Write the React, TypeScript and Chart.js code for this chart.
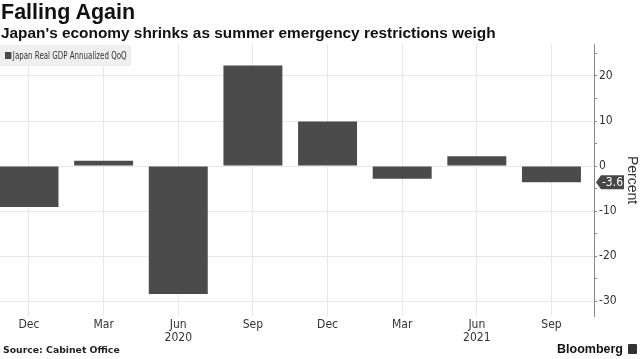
import React, { useEffect, useRef } from "react";
import { Chart, registerables } from "chart.js";

Chart.register(...registerables);

const categories = ["Dec", "Mar", "Jun", "Sep", "Dec", "Mar", "Jun", "Sep"];
const yearLabels = ["", "", "2020", "", "", "", "2021", ""];
const gdpValues = [-9.1, 1.2, -28.4, 22.3, 9.9, -2.8, 2.2, -3.6];
const yTickValues = [-30, -25, -20, -15, -10, -5, 0, 5, 10, 15, 20, 25];
const seriesName = "Japan Real GDP Annualized QoQ";

const BAR = "#4b4b4b";
const AXIS_FONT = "'Liberation Sans Narrow', 'DejaVu Sans Condensed', sans-serif";

const lastValueTag = {
  id: "lastValueTag",
  afterDraw(chart: any) {
    const { ctx, chartArea, scales } = chart;
    const v = gdpValues[gdpValues.length - 1];
    const y = scales.y.getPixelForValue(v);
    const x0 = chartArea.right + 2;
    const h = 7;
    ctx.save();
    ctx.fillStyle = "#474747";
    ctx.beginPath();
    ctx.moveTo(x0, y);
    ctx.lineTo(x0 + 5, y - h);
    ctx.lineTo(x0 + 28, y - h);
    ctx.lineTo(x0 + 28, y + h);
    ctx.lineTo(x0 + 5, y + h);
    ctx.closePath();
    ctx.fill();
    ctx.fillStyle = "#ffffff";
    ctx.font = "12px " + AXIS_FONT;
    ctx.textAlign = "center";
    ctx.textBaseline = "middle";
    ctx.fillText(String(v), x0 + 16.5, y + 0.5);
    ctx.restore();
  },
};

export default function App() {
  const ref = useRef<HTMLCanvasElement>(null);

  useEffect(() => {
    if (!ref.current) return;
    const chart = new Chart(ref.current, {
      type: "bar",
      data: {
        datasets: [
          {
            label: seriesName,
            data: gdpValues.map((v, i) => ({ x: i, y: v })),
            backgroundColor: BAR,
            borderWidth: 0,
            barPercentage: 0.79,
            categoryPercentage: 1,
          },
        ],
      },
      options: {
        responsive: false,
        animation: false,
        layout: { padding: { top: 44, left: 0, right: 0, bottom: 0 } },
        plugins: {
          legend: { display: false },
          tooltip: { enabled: false },
        },
        scales: {
          x: {
            type: "linear",
            offset: false,
            min: -0.3885,
            max: 7.57,
            afterBuildTicks: (s: any) => {
              s.ticks = categories.map((_, i) => ({ value: i }));
            },
            afterFit: (s: any) => {
              s.height = 43;
            },
            grid: { color: "#e8e8e8", drawTicks: false, lineWidth: 1, offset: false },
            border: { display: false },
            ticks: {
              autoSkip: false,
              maxRotation: 0,
              padding: 2,
              color: "#333333",
              font: { family: AXIS_FONT, size: 12, lineHeight: 1.1 },
              callback: (value: any) => {
                const i = Math.round(Number(value));
                return yearLabels[i] ? [categories[i], yearLabels[i]] : categories[i];
              },
            },
          },
          y: {
            position: "right",
            min: -33.3,
            max: 27.1,
            afterBuildTicks: (s: any) => {
              s.ticks = yTickValues.map((v) => ({ value: v }));
            },
            afterFit: (s: any) => {
              s.width = 46;
            },
            grid: {
              color: (c: any) => (c.tick && c.tick.value % 10 === 0 ? "#e8e8e8" : "rgba(0,0,0,0)"),
              tickColor: "#8a8a8a",
              tickLength: 3,
            },
            border: { display: true, color: "#8a8a8a" },
            ticks: {
              padding: 2,
              color: "#333333",
              font: { family: AXIS_FONT, size: 12 },
              callback: (value: any) => (Number(value) % 10 === 0 ? String(value) : ""),
            },
            title: {
              display: true,
              text: "Percent",
              color: "#333333",
              padding: 0,
              font: { family: "'Liberation Sans', 'DejaVu Sans', sans-serif", size: 14 },
            },
          },
        },
      },
      plugins: [lastValueTag],
    } as any);
    return () => chart.destroy();
  }, []);

  return (
    <div style={{ position: "relative", width: 640, height: 359, background: "#fff", overflow: "hidden" }}>
      <style>{`body{margin:0}`}</style>
      <canvas ref={ref} width={640} height={359} style={{ position: "absolute", left: 0, top: 0 }} />
      <div
        style={{
          position: "absolute",
          left: 1,
          top: 0,
          fontFamily: "'Liberation Sans', Arial, sans-serif",
          fontWeight: 700,
          fontSize: 21.5,
          color: "#111",
          lineHeight: "25px",
        }}
      >
        Falling Again
      </div>
      <div
        style={{
          position: "absolute",
          left: 1,
          top: 24,
          fontFamily: "'Liberation Sans', Arial, sans-serif",
          fontWeight: 700,
          fontSize: 15.4,
          color: "#111",
          lineHeight: "18px",
          whiteSpace: "nowrap",
        }}
      >
        Japan's economy shrinks as summer emergency restrictions weigh
      </div>
      <div
        style={{
          position: "absolute",
          left: 0,
          top: 45,
          height: 21,
          width: 131,
          background: "#efefef",
          overflow: "hidden",
        }}
      >
        <div
          style={{
            position: "absolute",
            left: 5,
            top: 0,
            height: 21,
            display: "flex",
            alignItems: "center",
            fontFamily: AXIS_FONT,
            fontSize: 11,
            color: "#333",
            whiteSpace: "nowrap",
            transform: "scaleX(0.715)",
            transformOrigin: "0 50%",
          }}
        >
          <span style={{ display: "inline-block", width: 9, height: 7, background: BAR, marginRight: 2 }} />
          {seriesName}
        </div>
      </div>
      <div
        style={{
          position: "absolute",
          left: 3,
          top: 344,
          fontFamily: "'DejaVu Sans', sans-serif",
          fontWeight: 700,
          fontSize: 9.3,
          color: "#222",
          whiteSpace: "nowrap",
        }}
      >
        Source: Cabinet Office
      </div>
      <div
        style={{
          position: "absolute",
          right: 3,
          top: 342,
          display: "flex",
          alignItems: "center",
          fontFamily: "'Liberation Sans', Arial, sans-serif",
          fontWeight: 700,
          fontSize: 12.5,
          color: "#111",
          whiteSpace: "nowrap",
        }}
      >
        Bloomberg
        <span style={{ display: "inline-block", width: 9, height: 10, background: "#333", marginLeft: 5, borderRadius: 1 }} />
      </div>
    </div>
  );
}
